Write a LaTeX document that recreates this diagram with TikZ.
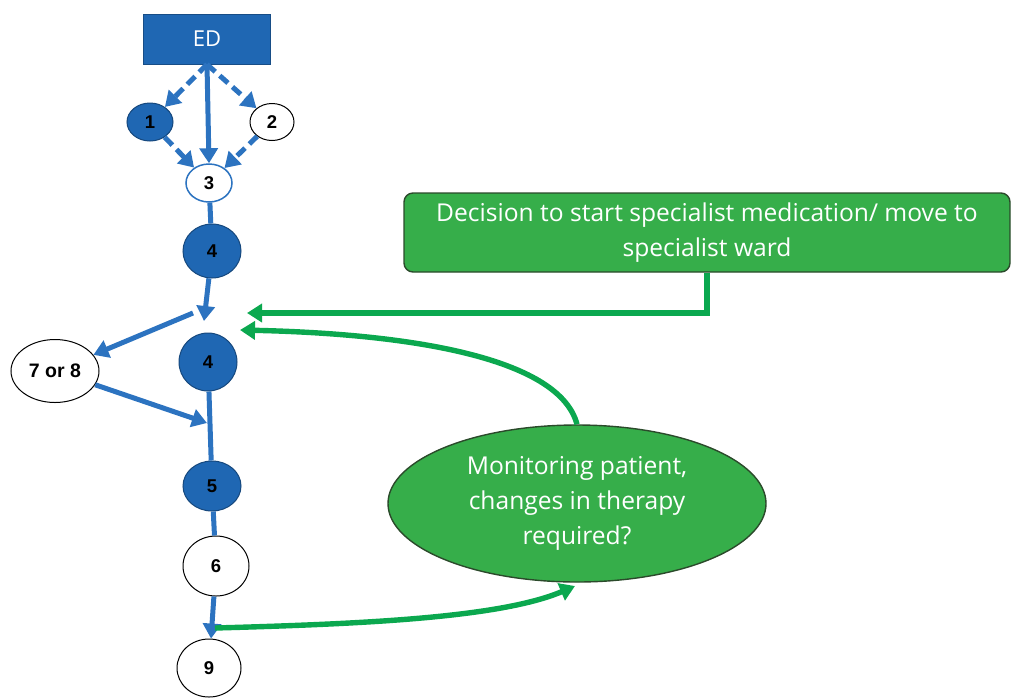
\documentclass[tikz,border=0pt]{standalone}
\usepackage{fontspec}
\setmainfont{Open Sans}
\newfontfamily\numfont{Liberation Sans}
\usetikzlibrary{shapes.geometric,arrows.meta}
\definecolor{edblue}{HTML}{1F67B3}
\definecolor{arrblue}{HTML}{2C73C0}
\definecolor{boxgreen}{HTML}{36AE4A}
\definecolor{darkline}{HTML}{2B4A2B}
\definecolor{arrgreen}{HTML}{0BA84F}
\tikzset{
  x=1pt, y=-1pt,
  stepnum/.style={ellipse, draw=black, line width=1pt, fill=white, inner sep=0pt,
    font=\numfont\bfseries\fontsize{18.5}{18.5}\selectfont, text=black},
  bluenum/.style={stepnum, fill=edblue, draw=edblue!70!black},
  bflow/.style={draw=arrblue, line width=5pt},
  barrow/.style={bflow, -{Triangle[length=15pt,width=18pt]}},
  bdash/.style={barrow, dash pattern=on 11pt off 6pt},
  garrow/.style={draw=arrgreen, line width=5.4pt, -{Triangle[length=15pt,width=18pt]}},
  greenbox/.style={draw=darkline, line width=1.4pt, fill=boxgreen, text=white,
    font=\fontsize{24.6}{35}\selectfont, align=center}
}
\begin{document}
\begin{tikzpicture}
\useasboundingbox (0,0) rectangle (1011,697);

% entry point
\node[draw=edblue!75!black, line width=0.8pt, fill=edblue, text=white,
  minimum width=127pt, minimum height=50pt, font=\fontsize{22}{22}\selectfont]
  (ed) at (207,39) {ED};

% numbered steps
\node[bluenum, minimum width=46pt, minimum height=38pt] (n1) at (150,122) {1};
\node[stepnum, minimum width=44pt, minimum height=37pt] (n2) at (272,122) {2};
\node[stepnum, draw=arrblue, line width=1.5pt, minimum width=46pt, minimum height=38pt] (n3) at (209,183) {3};
\node[bluenum, minimum width=58pt, minimum height=54pt] (n4a) at (212,251) {4};
\node[bluenum, minimum width=58pt, minimum height=58pt] (n4b) at (208,362) {4};
\node[stepnum, minimum width=88pt, minimum height=63pt, font=\numfont\bfseries\fontsize{19.5}{19.5}\selectfont] (n78) at (55,371) {7 or 8};
\node[bluenum, minimum width=58pt, minimum height=50pt] (n5) at (212,486) {5};
\node[stepnum, minimum width=66pt, minimum height=60pt] (n6) at (216,566) {6};
\node[stepnum, minimum width=64pt, minimum height=58pt] (n9) at (209,668) {9};

% green decision box and monitoring ellipse
\node[greenbox, rounded corners=9pt, minimum width=606pt, minimum height=79pt] (dec) at (707,232.5)
  {Decision to start specialist medication/ move to\\specialist ward};
\node[greenbox, ellipse, inner sep=0pt, minimum width=378pt, minimum height=157pt] (mon) at (577,503.5)
  {Monitoring patient,\\changes in therapy\\required?};

% free points on the main flow
\coordinate (split) at (204,321);
\coordinate (branch) at (193,313);
\coordinate (rejoin) at (207,423);
\coordinate (in1) at (247,313);
\coordinate (in2) at (240,330);
\coordinate (out9) at (215,628);
\coordinate (monin) at (575,586);

% blue flow from ED
\draw[bdash] (ed.south) -- (n1);
\draw[barrow] (ed.south) -- (n3.north);
\draw[bdash] (ed.south) -- (n2);
\draw[bdash] (n1) -- (n3);
\draw[bdash] (n2) -- (n3);
\draw[bflow] (n3) -- (n4a);
\draw[barrow] (n4a) -- (split);
\draw[barrow] (branch) -- (n78);
\draw[bflow] (n4b) -- (n5);
\draw[barrow] (n78) -- (rejoin);
\draw[bflow] (n5) -- (n6);
\draw[barrow] (n6) -- (n9);

% green feedback connectors
\draw[garrow] (dec.south) |- (in1);
\draw[garrow] (mon.north) .. controls (560,360) and (420,334) .. (in2);
\draw[garrow] (out9) .. controls (360,624) and (500,618) .. (monin);
\end{tikzpicture}
\end{document}
